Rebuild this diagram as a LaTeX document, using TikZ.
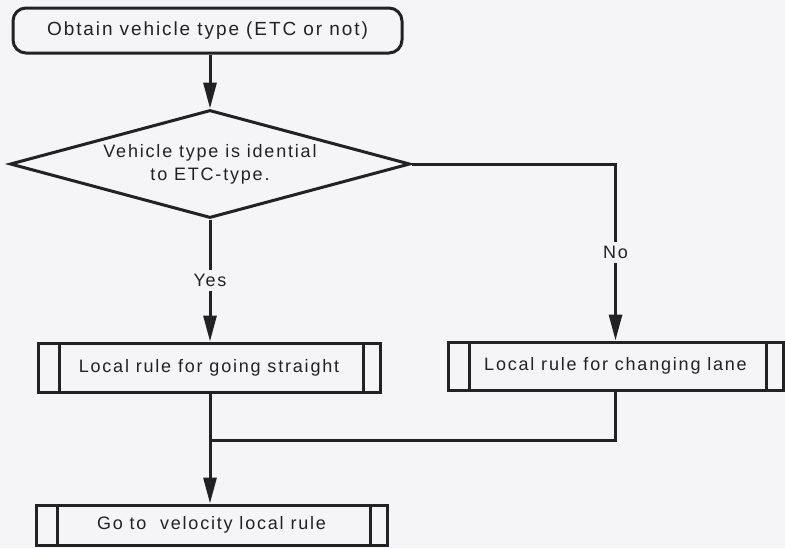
\documentclass[tikz,border=0pt]{standalone}
\usepackage{fontspec}
\setmainfont{Liberation Sans}[LetterSpace=10]
\usetikzlibrary{shapes.geometric,arrows.meta}

\definecolor{paper}{RGB}{245,245,247}
\definecolor{ink}{RGB}{34,34,36}

\tikzset{
  flow line/.style={draw=ink, line width=1.5pt},
  flow arrow/.style={flow line, -{Triangle[length=13pt,width=6.5pt]}},
  startbox/.style={draw=ink, line width=1.5pt, rounded corners=6.5pt,
                   minimum width=194.5pt, minimum height=22.5pt, inner sep=0,
                   font=\fontsize{9.5}{11}\selectfont, text=ink},
  decbox/.style={draw=ink, line width=1.5pt, shape=diamond, aspect=3.7,
                 minimum width=200pt, minimum height=54pt, inner sep=0,
                 align=center, font=\fontsize{9}{11.5}\selectfont, text=ink},
  procbox/.style={draw=ink, line width=1.5pt, rectangle, inner sep=0,
                  font=\fontsize{9}{11}\selectfont, text=ink,
                  path picture={
                    \draw[ink, line width=1.5pt]
                      ([xshift=10.5pt]path picture bounding box.north west) --
                      ([xshift=10.5pt]path picture bounding box.south west)
                      ([xshift=-8.5pt]path picture bounding box.north east) --
                      ([xshift=-8.5pt]path picture bounding box.south east);
                  }},
  branch/.style={fill=paper, inner sep=2pt, text=ink,
                 font=\fontsize{9}{11}\selectfont},
}

\begin{document}
\begin{tikzpicture}[x=0.5pt, y=-0.5pt]
  % 1 unit = 1 px of the 785 x 548 frame, y counted downwards
  \useasboundingbox (0,0) rectangle (785,548);
  \fill[paper] (0,0) rectangle (785,548);

  % ---- boxes ----
  \node[startbox] (start) at (207.5, 30.5) {Obtain vehicle type (ETC or not)};
  \node[decbox]   (dec)   at (210, 164) {Vehicle type is idential\\to ETC-type.};
  \node[procbox, minimum width=171pt, minimum height=24.5pt]
        (straight) at (209, 367.5) {Local rule for going straight};
  \node[procbox, minimum width=167.5pt, minimum height=24pt]
        (change)   at (615.5, 366) {Local rule for changing lane};
  \node[procbox, minimum width=175.5pt, minimum height=20pt]
        (velocity) at (211.5, 525) {Go to\ \ velocity local rule};

  % ---- merge point of the two rules ----
  \coordinate (join) at (210, 440);

  % ---- connectors ----
  \draw[flow arrow] (start.south -| dec.north) -- (dec.north);
  \draw[flow arrow] (dec.south) -- node[branch] {Yes} (dec.south |- straight.north);
  \draw[flow arrow] (dec.east) -- (dec.east -| change.north)
        -- node[branch] {No} (change.north);
  \draw[flow line]  (change.south) -- (change.south |- join) -- (join);
  \draw[flow arrow] (dec.south |- straight.south) -- (dec.south |- velocity.north);
\end{tikzpicture}
\end{document}
